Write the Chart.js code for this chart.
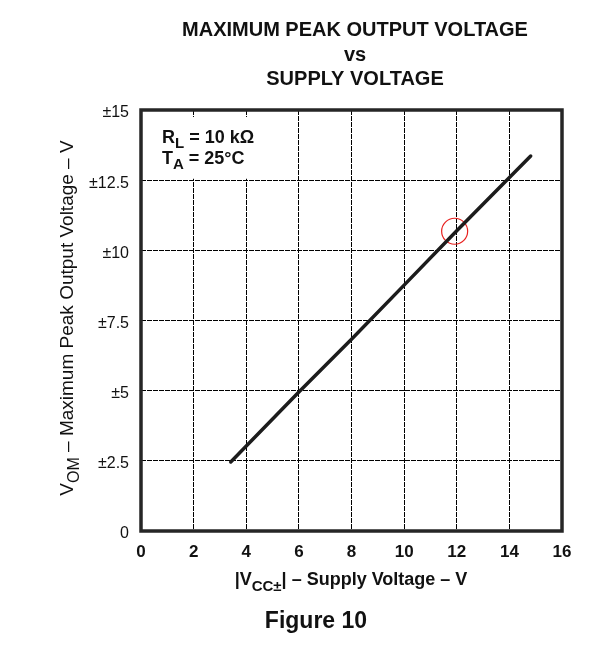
<!DOCTYPE html>
<html>
<head>
<meta charset="utf-8">
<script src="https://cdn.jsdelivr.net/npm/chart.js@4"></script>
<style>
html,body{margin:0;padding:0;background:#fff;}
#wrap{width:598px;height:649px;}
</style>
</head>
<body>
<div id="wrap"><canvas id="c" width="598" height="649"></canvas></div>
<script>
// Data
const supplyVoltage = [3.41, 6, 8, 10, 12, 14.81];
const peakOutput    = [2.46, 4.95, 6.83, 8.76, 10.7, 13.36];
const markedPoint   = [{x: 11.92, y: 10.68}];
const xTicks = [0, 2, 4, 6, 8, 10, 12, 14, 16];
const yTickLabels = {0: '0', 2.5: '\u00b12.5', 5: '\u00b15', 7.5: '\u00b17.5', 10: '\u00b110', 12.5: '\u00b112.5', 15: '\u00b115'};
const titleLines = ['MAXIMUM PEAK OUTPUT VOLTAGE', 'vs', 'SUPPLY VOLTAGE'];

const FONT = '"Liberation Sans", Arial, Helvetica, sans-serif';
const INK = '#111';

function drawSegs(ctx, segs, x, y, align) {
  let total = 0;
  segs.forEach(s => {
    ctx.font = (s.bold ? 'bold ' : '') + s.size + 'px ' + FONT;
    s.w = ctx.measureText(s.t).width;
    total += s.w;
  });
  let cx = align === 'center' ? x - total / 2 : x;
  ctx.textAlign = 'left';
  ctx.textBaseline = 'alphabetic';
  segs.forEach(s => {
    ctx.font = (s.bold ? 'bold ' : '') + s.size + 'px ' + FONT;
    ctx.fillText(s.t, cx, y + (s.dy || 0));
    cx += s.w;
  });
}

const decor = {
  id: 'decor',
  beforeDatasetsDraw(chart) {
    const ctx = chart.ctx;
    const xs = chart.scales.x, ys = chart.scales.y;
    ctx.save();
    ctx.fillStyle = '#fff';
    const l = xs.getPixelForValue(0) + 2, r = xs.getPixelForValue(6) - 1;
    const t = ys.getPixelForValue(14.75), b = ys.getPixelForValue(12.55);
    ctx.fillRect(l, t, r - l, b - t);
    ctx.restore();
  },
  afterDraw(chart) {
    const ctx = chart.ctx;
    const a = chart.chartArea;
    ctx.save();
    ctx.strokeStyle = '#262626';
    ctx.lineWidth = 3.5;
    ctx.strokeRect(a.left, a.top, a.right - a.left, a.bottom - a.top);

    ctx.fillStyle = INK;
    ctx.font = 'bold 20px ' + FONT;
    ctx.textAlign = 'center';
    ctx.textBaseline = 'alphabetic';
    ctx.fillText(titleLines[0], 355, 36);
    ctx.fillText(titleLines[1], 355, 61);
    ctx.fillText(titleLines[2], 355, 85);

    drawSegs(ctx, [
      {t: 'R', size: 18, bold: true},
      {t: 'L', size: 15, bold: true, dy: 5},
      {t: ' = 10 k\u03a9', size: 18, bold: true}
    ], 162, 143, 'left');
    drawSegs(ctx, [
      {t: 'T', size: 18, bold: true},
      {t: 'A', size: 15, bold: true, dy: 5},
      {t: ' = 25\u00b0C', size: 18, bold: true}
    ], 162, 164, 'left');

    drawSegs(ctx, [
      {t: '|V', size: 18, bold: true},
      {t: 'CC\u00b1', size: 15, bold: true, dy: 6},
      {t: '| \u2013 Supply Voltage \u2013 V', size: 18, bold: true}
    ], 351, 585, 'center');

    ctx.save();
    ctx.translate(73, 318);
    ctx.rotate(-Math.PI / 2);
    drawSegs(ctx, [
      {t: 'V', size: 19},
      {t: 'OM', size: 16, dy: 6},
      {t: ' \u2013 Maximum Peak Output Voltage \u2013 V', size: 19}
    ], 0, 0, 'center');
    ctx.restore();

    ctx.font = 'bold 23px ' + FONT;
    ctx.textAlign = 'center';
    ctx.fillText('Figure 10', 316, 628);
    ctx.restore();
  }
};

new Chart(document.getElementById('c'), {
  type: 'line',
  data: {
    datasets: [
      {
        data: supplyVoltage.map((v, i) => ({x: v, y: peakOutput[i]})),
        borderColor: '#1c1c1c',
        borderWidth: 3.5,
        pointRadius: 0,
        tension: 0,
        borderCapStyle: 'round',
        fill: false
      },
      {
        type: 'scatter',
        data: markedPoint,
        pointRadius: 13,
        pointBorderColor: '#e8201e',
        pointBackgroundColor: 'rgba(0,0,0,0)',
        pointBorderWidth: 1.2,
        showLine: false
      }
    ]
  },
  options: {
    responsive: false,
    animation: false,
    devicePixelRatio: 1,
    layout: {padding: {top: 110, right: 36, left: 0, bottom: 0}},
    plugins: {legend: {display: false}, tooltip: {enabled: false}, title: {display: false}},
    scales: {
      x: {
        type: 'linear', min: 0, max: 16,
        afterBuildTicks(s) { s.ticks = xTicks.map(v => ({value: v})); },
        afterFit(s) { s.height = 118; },
        ticks: {color: INK, font: {family: FONT, size: 17, weight: 'bold'}, padding: 11, maxRotation: 0, autoSkip: false},
        grid: {color: '#000', lineWidth: 1, drawTicks: false},
        border: {display: false, dash: [5, 1]}
      },
      y: {
        type: 'linear', min: 0, max: 15,
        afterBuildTicks(s) { s.ticks = Object.keys(yTickLabels).map(Number).sort((a,b)=>a-b).map(v => ({value: v})); },
        afterFit(s) { s.width = 141; },
        ticks: {
          color: INK, font: {family: FONT, size: 16}, padding: 12, labelOffset: 3, autoSkip: false,
          callback: v => yTickLabels[v]
        },
        grid: {color: '#000', lineWidth: 1, drawTicks: false},
        border: {display: false, dash: [5, 1]}
      }
    }
  },
  plugins: [decor]
});
</script>
</body>
</html>
